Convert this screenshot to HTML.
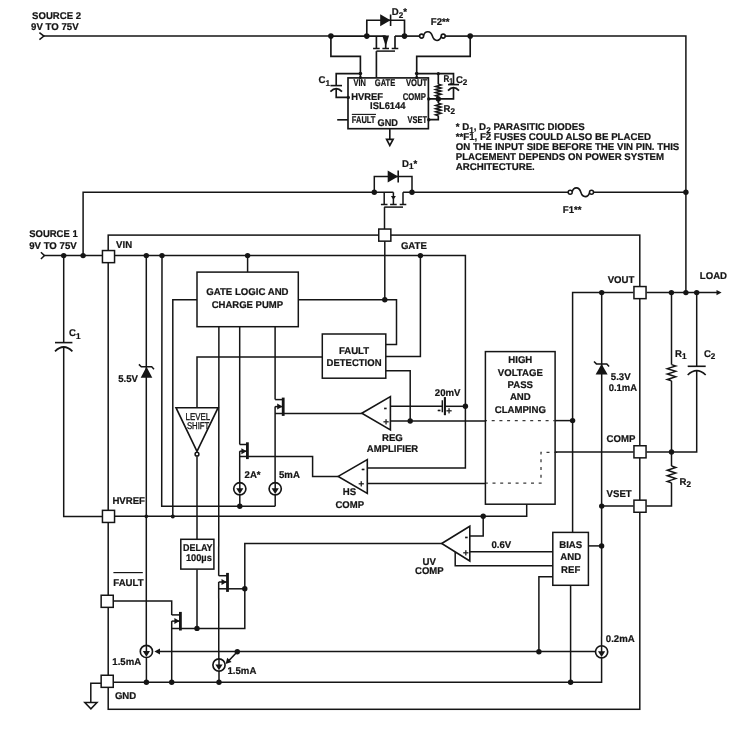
<!DOCTYPE html>
<html lang="en"><head><meta charset="utf-8"><title>ISL6144 block diagram</title>
<style>
html,body{margin:0;padding:0;background:#fff}
svg{display:block;will-change:transform}
svg *{vector-effect:none}
.s polyline,.s path,.s line{fill:none;stroke:#151515;stroke-width:1.5;stroke-linecap:butt;stroke-linejoin:miter}
.s .t polyline,.s .t path,.s .t .w{stroke-width:1.65}
.s .f{fill:#151515;stroke:none}
.s .w{fill:#fff;stroke:#151515;stroke-width:1.5}
.s .w2{fill:#fff;stroke:#151515;stroke-width:1.6;stroke-linejoin:miter}
.s .n{fill:none;stroke:#151515;stroke-width:1.5}
.s text{font-family:"Liberation Sans",sans-serif;font-weight:bold;font-size:9.8px;fill:#151515;stroke:#151515;stroke-width:0.22px;text-rendering:geometricPrecision}
.s text.r{font-weight:normal;stroke:#151515;stroke-width:0.3px}
</style></head><body>
<svg class="s" width="746" height="740" viewBox="0 0 746 740">
<rect x="0" y="0" width="746" height="740" fill="#fff"/>
<g class="t">
<polyline points="39.4,32.6 43.9,36.1 39.4,39.6" style="stroke-width:1.5"/>
<polyline points="43.9,36.1 330.9,36.1" style="stroke-width:1.5"/>
<polyline points="330.9,36.1 385.7,36.1"/>
<polyline points="395,36.1 419.8,36.1"/>
<path d="M423.6,35.6 C425.1,30.3 430.6,30.3 432.4,36.1 S439.7,41.7 441.2,36.6" style="stroke-width:1.6"/>
<circle cx="421.6" cy="36.1" r="2.0" class="w"/>
<circle cx="443.2" cy="36.1" r="2.0" class="w"/>
<polyline points="445,36.1 470.2,36.1"/>
<polyline points="470.2,36.1 685.9,36.1 685.9,292.6" style="stroke-width:1.5"/>
<circle cx="330.9" cy="36.1" r="2.8" class="f"/>
<circle cx="366.8" cy="36.1" r="2.8" class="f"/>
<circle cx="404.5" cy="36.1" r="2.8" class="f"/>
<circle cx="470.2" cy="36.1" r="2.8" class="f"/>
<polyline points="330.9,36.1 330.9,56.4 360.4,56.4 360.4,77.9"/>
<polyline points="470.2,36.1 470.2,56.4 416.7,56.4 416.7,77.9"/>
<polyline points="366.8,36.1 366.8,20.2 404.5,20.2 404.5,36.1"/>
<polygon points="380.2,14.3 380.2,26.2 390.5,20.2" class="f"/>
<polyline points="390.6,14.5 390.6,26" style="stroke-width:1.6"/>
<polyline points="376.4,36.1 376.4,48.5"/>
<polyline points="385.7,36.1 385.7,48.5"/>
<polyline points="395,36.1 395,48.5"/>
<polyline points="373.1,48.5 379.7,48.5" style="stroke-width:1.5"/>
<polyline points="382.4,48.5 389,48.5" style="stroke-width:1.5"/>
<polyline points="391.7,48.5 398.3,48.5" style="stroke-width:1.5"/>
<polyline points="376.4,51.1 395,51.1" style="stroke-width:1.5"/>
<polygon points="382.3,35.6 389.1,35.6 385.7,46.3" class="f"/>
<polyline points="376.4,51.1 376.4,77.9"/>
<rect x="348" y="77.9" width="80.4" height="50.8" class="w"/>
<polyline points="360.4,73.6 336.2,73.6 336.2,85.6"/>
<polyline points="330.4,85.6 342,85.6" style="stroke-width:1.6"/>
<path d="M330.4,91.6 Q336.2,85.6 342,91.6" style="stroke-width:1.7"/>
<polyline points="336.2,88.6 336.2,97.4 348,97.4"/>
<circle cx="360.4" cy="73.6" r="1.8" class="f"/>
<circle cx="360.4" cy="77.6" r="1.5" class="f"/>
<circle cx="348.3" cy="97.4" r="1.7" class="f"/>
<polyline points="337.2,119.8 348,119.8"/>
<polyline points="389.8,128.7 389.8,139.2"/>
<polygon points="386.6,139.4 393.1,139.4 389.8,145.4" class="w"/>
<polyline points="416.7,73.6 453.5,73.6 453.5,84.6"/>
<polyline points="448,84.6 459,84.6" style="stroke-width:1.6"/>
<path d="M448,90.6 Q453.5,84.6 459,90.6" style="stroke-width:1.7"/>
<polyline points="453.5,87.6 453.5,98.9 428.4,98.9"/>
<circle cx="416.7" cy="73.6" r="1.8" class="f"/>
<circle cx="416.7" cy="77.6" r="1.5" class="f"/>
<circle cx="438.3" cy="73.7" r="1.6" class="f"/>
<polyline points="438.3,73.6 438.3,84.3"/>
<polyline points="438.3,84.3 440.8,85.0562 435.8,86.5687 440.8,88.0812 435.8,89.5938 440.8,91.1063 435.8,92.6188 440.8,94.1313 435.8,95.6438 438.3,96.4" stroke-linejoin="miter"/>
<polyline points="438.3,96.4 438.3,103.2"/>
<polyline points="438.3,103.2 440.8,103.975 435.8,105.525 440.8,107.075 435.8,108.625 440.8,110.175 435.8,111.725 440.8,113.275 435.8,114.825 438.3,115.6" stroke-linejoin="miter"/>
<polyline points="438.3,115.6 438.3,119.6 428.4,119.6"/>
<circle cx="438.3" cy="98.9" r="2.6" class="f"/>
<circle cx="428.8" cy="98.9" r="1.7" class="f"/>
<circle cx="428.8" cy="119.8" r="1.7" class="f"/>
</g>
<text transform="translate(353.5 86) scale(0.98 1)" font-size="9.19" textLength="12.65" lengthAdjust="spacingAndGlyphs">VIN</text>
<text transform="translate(374.8 86) scale(0.98 1)" font-size="9.19" textLength="20.82" lengthAdjust="spacingAndGlyphs">GATE</text>
<text transform="translate(405.9 86) scale(0.98 1)" font-size="9.19" textLength="21.73" lengthAdjust="spacingAndGlyphs">VOUT</text>
<text transform="translate(351.2 99.9) scale(0.98 1)" textLength="32.45" lengthAdjust="spacingAndGlyphs">HVREF</text>
<text transform="translate(402.7 100.4) scale(0.98 1)" textLength="23.67" lengthAdjust="spacingAndGlyphs">COMP</text>
<text transform="translate(370.1 109.1) scale(0.98 1)" textLength="36.12" lengthAdjust="spacingAndGlyphs">ISL6144</text>
<text transform="translate(351.8 122.9) scale(0.98 1)" textLength="24.08" lengthAdjust="spacingAndGlyphs">FAULT</text>
<polyline points="351.8,114.4 376,114.4" style="stroke-width:1.1"/>
<text transform="translate(377.6 125.8) scale(0.98 1)" textLength="20.82" lengthAdjust="spacingAndGlyphs">GND</text>
<text transform="translate(407.6 122.9) scale(0.98 1)" textLength="19.80" lengthAdjust="spacingAndGlyphs">VSET</text>
<text transform="translate(318.6 83.1) scale(0.98 1)">C<tspan dy="2.6" font-size="8.3">1</tspan></text>
<text transform="translate(443.4 81.8) scale(0.98 1)" textLength="9.80" lengthAdjust="spacingAndGlyphs">R<tspan dy="2.6" font-size="8.3">1</tspan></text>
<text transform="translate(455.9 82.6) scale(0.98 1)">C<tspan dy="2.6" font-size="8.3">2</tspan></text>
<text transform="translate(443.5 111.8) scale(0.98 1)">R<tspan dy="2.6" font-size="8.3">2</tspan></text>
<text transform="translate(32.1 18.5) scale(0.98 1)" textLength="49.90" lengthAdjust="spacingAndGlyphs">SOURCE 2</text>
<text transform="translate(31.1 29.8) scale(0.98 1)" textLength="48.47" lengthAdjust="spacingAndGlyphs">9V TO 75V</text>
<text transform="translate(391.8 15) scale(0.98 1)">D<tspan dy="2.6" font-size="8.3">2</tspan><tspan dy="-2.6">*</tspan></text>
<text transform="translate(430.8 25.4) scale(0.98 1)">F2**</text>
<text transform="translate(455.7 129.9) scale(0.98 1)" font-size="9.87" textLength="131.63" lengthAdjust="spacingAndGlyphs">* D<tspan dy="2.6" font-size="8.3">1</tspan><tspan dy="-2.6">, D</tspan><tspan dy="2.6" font-size="8.3">2</tspan><tspan dy="-2.6"> PARASITIC DIODES</tspan></text>
<text transform="translate(455.7 140) scale(0.98 1)" font-size="9.87" textLength="199.18" lengthAdjust="spacingAndGlyphs">**F1, F2 FUSES COULD ALSO BE PLACED</text>
<text transform="translate(455.7 150) scale(0.98 1)" font-size="9.87" textLength="228.16" lengthAdjust="spacingAndGlyphs">ON THE INPUT SIDE BEFORE THE VIN PIN. THIS</text>
<text transform="translate(455.7 160) scale(0.98 1)" font-size="9.87" textLength="212.65" lengthAdjust="spacingAndGlyphs">PLACEMENT DEPENDS ON POWER SYSTEM</text>
<text transform="translate(455.7 170) scale(0.98 1)" font-size="9.87" textLength="80.71" lengthAdjust="spacingAndGlyphs">ARCHITECTURE.</text>
<polyline points="83.1,255.6 83.1,192.3 393.4,192.3"/>
<polyline points="403,192.3 568.3,192.3"/>
<path d="M572.2,191.8 C573.7,186.5 579.05,186.5 580.85,192.3 S588,197.9 589.5,192.8" style="stroke-width:1.6"/>
<circle cx="570.2" cy="192.3" r="2.0" class="w"/>
<circle cx="591.5" cy="192.3" r="2.0" class="w"/>
<polyline points="593.3,192.3 685.9,192.3"/>
<circle cx="685.9" cy="192.3" r="2.7" class="f"/>
<circle cx="374.3" cy="192.3" r="2.7" class="f"/>
<circle cx="412" cy="192.3" r="2.7" class="f"/>
<polyline points="374.3,192.3 374.3,176.5 412,176.5 412,192.3"/>
<polygon points="387.7,170.4 387.7,182.6 398.1,176.5" class="f"/>
<polyline points="398.2,170.5 398.2,182.4" style="stroke-width:1.6"/>
<polyline points="384.2,192.3 384.2,204.5"/>
<polyline points="393.4,192.3 393.4,204.5"/>
<polyline points="403,192.3 403,204.5"/>
<polyline points="380.9,204.5 387.5,204.5" style="stroke-width:1.5"/>
<polyline points="390.1,204.5 396.7,204.5" style="stroke-width:1.5"/>
<polyline points="399.7,204.5 406.3,204.5" style="stroke-width:1.5"/>
<polyline points="384.2,207.1 403,207.1" style="stroke-width:1.5"/>
<polygon points="390.9,196 395.9,196 393.4,199.8" class="f"/>
<polyline points="384.5,207.1 384.5,229"/>
<text transform="translate(402.1 166.8) scale(0.98 1)">D<tspan dy="2.6" font-size="8.3">1</tspan><tspan dy="-2.6">*</tspan></text>
<text transform="translate(562.8 212.5) scale(0.98 1)">F1**</text>
<rect x="108.2" y="235.1" width="531.6" height="474.2" class="n"/>
<polyline points="40.9,252.2 44.5,255.6 40.9,259" style="stroke-width:1.5"/>
<polyline points="44.5,255.6 102,255.6"/>
<circle cx="63.7" cy="255.6" r="2.7" class="f"/>
<circle cx="83.1" cy="255.6" r="2.7" class="f"/>
<text transform="translate(29.2 236.6) scale(0.98 1)" textLength="49.49" lengthAdjust="spacingAndGlyphs">SOURCE 1</text>
<text transform="translate(29.2 249.4) scale(0.98 1)" textLength="48.47" lengthAdjust="spacingAndGlyphs">9V TO 75V</text>
<polyline points="63.7,255.6 63.7,342.6"/>
<polyline points="55,342.6 72.4,342.6" style="stroke-width:1.6"/>
<path d="M55,351.3 Q63.7,342.7 72.4,351.3" style="stroke-width:1.7"/>
<polyline points="63.7,347 63.7,516.4 102,516.4"/>
<text transform="translate(69 335.9) scale(0.98 1)">C<tspan dy="2.6" font-size="8.3">1</tspan></text>
<polyline points="115,255.6 465.4,255.6 465.4,468 367.3,468"/>
<circle cx="146.3" cy="255.6" r="2.7" class="f"/>
<circle cx="162" cy="255.6" r="2.7" class="f"/>
<circle cx="247.6" cy="255.6" r="2.7" class="f"/>
<circle cx="420.4" cy="255.6" r="2.7" class="f"/>
<circle cx="465.4" cy="406.3" r="2.7" class="f"/>
<text transform="translate(116.1 247.8) scale(0.98 1)">VIN</text>
<polyline points="146.3,255.6 146.3,645.3"/>
<polygon points="146.5,366.8 140.7,377.8 152.3,377.8" class="f"/>
<polyline points="138.9,364.4 141.3,366.8 151.7,366.8 154,369.3" style="stroke-width:1.5"/>
<text transform="translate(118.2 381.6) scale(0.98 1)">5.5V</text>
<polyline points="162,255.6 161.7,506.2 275.2,506.2"/>
<circle cx="239.8" cy="506.2" r="2.7" class="f"/>
<polyline points="247.6,255.6 247.6,272"/>
<rect x="197" y="272.1" width="101.3" height="54.6" class="w"/>
<text transform="translate(247.4 295.2) scale(0.98 1)" text-anchor="middle" textLength="83.98" lengthAdjust="spacingAndGlyphs">GATE LOGIC AND</text>
<text transform="translate(247.4 308.1) scale(0.98 1)" text-anchor="middle" textLength="72.96" lengthAdjust="spacingAndGlyphs">CHARGE PUMP</text>
<polyline points="197,299.7 172.8,299.7 172.8,516.4"/>
<polyline points="298.3,299.8 396.5,299.8 396.5,344.6 385.8,344.6"/>
<polyline points="384.8,241 384.8,299.8"/>
<circle cx="384.8" cy="299.8" r="2.7" class="f"/>
<text transform="translate(400.9 248.5) scale(0.98 1)">GATE</text>
<polyline points="420.4,255.6 420.4,356.4 385.8,356.4"/>
<polyline points="218.9,326.7 218.7,575.7"/>
<polyline points="239.7,326.7 239.7,444.5"/>
<polyline points="275.1,326.7 275.1,399.6"/>
<polyline points="322.3,357.1 197,357.1 197,407.7"/>
<rect x="322.3" y="334" width="63.5" height="44.2" class="w"/>
<text transform="translate(354 353.6) scale(0.98 1)" text-anchor="middle">FAULT</text>
<text transform="translate(354 365.9) scale(0.98 1)" text-anchor="middle" textLength="56.12" lengthAdjust="spacingAndGlyphs">DETECTION</text>
<polyline points="385.8,370.7 410.2,370.7 410.2,421"/>
<circle cx="410.2" cy="421" r="2.7" class="f"/>
<polygon points="176,407.7 218.1,407.7 197,451.3" class="w2"/>
<circle cx="197" cy="454.2" r="1.9" class="w"/>
<text transform="translate(185.6 419.6) scale(0.98 1)" font-size="9.19" class="r" textLength="25.10" lengthAdjust="spacingAndGlyphs">LEVEL</text>
<text transform="translate(186.9 428.6) scale(0.98 1)" font-size="9.19" class="r" textLength="22.86" lengthAdjust="spacingAndGlyphs">SHIFT</text>
<polyline points="197,456.6 197,539.2"/>
<rect x="180.8" y="539.3" width="33.1" height="29.8" class="w"/>
<text transform="translate(182.9 551.3) scale(0.98 1)" textLength="30.31" lengthAdjust="spacingAndGlyphs">DELAY</text>
<text transform="translate(185.9 561.1) scale(0.98 1)" textLength="26.43" lengthAdjust="spacingAndGlyphs">100µs</text>
<polyline points="197,569.4 197,628.4"/>
<circle cx="197" cy="628.4" r="2.7" class="f"/>
<polyline points="275.1,399.6 283.2,399.6"/>
<polyline points="283.2,397.6 283.2,415.9" style="stroke-width:2.8"/>
<polyline points="275.1,406.6 282.4,406.6"/>
<polygon points="277.2,403.6 277.2,409.6 282.4,406.6" class="f"/>
<polyline points="275.1,406.6 275.1,482.7"/>
<polyline points="275.1,413.4 361.8,413.4"/>
<circle cx="275.2" cy="488.8" r="6.1" class="w" style="stroke-width:1.65"/>
<polyline points="275.2,482.7 275.2,489.8"/>
<polygon points="271.6,488.3 278.8,488.3 275.2,494.1" class="f"/>
<polyline points="275.2,494.9 275.2,506.2"/>
<polyline points="239.7,444.5 247.4,444.5"/>
<polyline points="247.4,442.3 247.4,459.1" style="stroke-width:2.8"/>
<polyline points="239.7,451.2 246.6,451.2"/>
<polygon points="241.4,448.2 241.4,454.2 246.6,451.2" class="f"/>
<polyline points="239.7,451.2 239.7,482.7"/>
<polyline points="239.7,456.6 312.6,456.6 312.6,476.4 338.2,476.4"/>
<circle cx="239.8" cy="488.8" r="6.1" class="w" style="stroke-width:1.65"/>
<polyline points="239.8,482.7 239.8,489.8"/>
<polygon points="236.2,488.3 243.4,488.3 239.8,494.1" class="f"/>
<polyline points="239.8,494.9 239.8,506.2"/>
<text transform="translate(244.6 477.6) scale(0.98 1)">2A*</text>
<text transform="translate(279 477.6) scale(0.98 1)">5mA</text>
<polygon points="361.8,413.3 390.4,396.6 390.4,429.9" class="w2"/>
<text transform="translate(385.4 410.9) scale(0.98 1)" text-anchor="middle" font-size="9.19">-</text>
<text transform="translate(386.1 424.9) scale(0.98 1)" text-anchor="middle" font-size="9.19">+</text>
<polyline points="390.4,406.3 442.3,406.3"/>
<polyline points="445,406.3 465.4,406.3"/>
<polyline points="442.3,400.2 442.3,412.3" style="stroke-width:1.4"/>
<polyline points="444.9,397.1 444.9,415.2" style="stroke-width:2.1"/>
<text transform="translate(439.1 413) scale(0.98 1)" text-anchor="middle" font-size="8.17">-</text>
<text transform="translate(449.1 413.6) scale(0.98 1)" text-anchor="middle" font-size="6.94">+</text>
<polyline points="390.4,421 485.4,421"/>
<text transform="translate(434.8 396.1) scale(0.98 1)">20mV</text>
<text transform="translate(392.4 440.6) scale(0.98 1)" text-anchor="middle">REG</text>
<text transform="translate(392.5 451.5) scale(0.98 1)" text-anchor="middle" textLength="52.45" lengthAdjust="spacingAndGlyphs">AMPLIFIER</text>
<polygon points="338.2,476.4 367.3,459.6 367.3,493.4" class="w2"/>
<text transform="translate(363.1 472.1) scale(0.98 1)" text-anchor="middle" font-size="9.19">-</text>
<text transform="translate(361.4 486.6) scale(0.98 1)" text-anchor="middle" font-size="9.19">+</text>
<polyline points="367.3,483.4 485.4,483.4"/>
<text transform="translate(349.4 494.8) scale(0.98 1)" text-anchor="middle">HS</text>
<text transform="translate(349.7 507.6) scale(0.98 1)" text-anchor="middle" textLength="29.18" lengthAdjust="spacingAndGlyphs">COMP</text>
<rect x="485.4" y="351.6" width="69.7" height="152.6" class="w"/>
<text transform="translate(520.3 363.2) scale(0.98 1)" text-anchor="middle">HIGH</text>
<text transform="translate(520.3 375.6) scale(0.98 1)" text-anchor="middle">VOLTAGE</text>
<text transform="translate(520.3 388) scale(0.98 1)" text-anchor="middle">PASS</text>
<text transform="translate(520.3 400.4) scale(0.98 1)" text-anchor="middle">AND</text>
<text transform="translate(520.3 412.8) scale(0.98 1)" text-anchor="middle">CLAMPING</text>
<polyline points="556.3,420.7 486,420.7" style="stroke-dasharray:3,4.7;stroke-width:1.3;stroke:#3a3a3a"/>
<polyline points="557.2,452.4 541,452.4 541,483.1 486,483.1" style="stroke-dasharray:3,4.7;stroke-width:1.3;stroke:#3a3a3a"/>
<polyline points="555.1,420.6 572.6,420.6"/>
<circle cx="572.6" cy="420.6" r="2.7" class="f"/>
<polyline points="526.7,504.2 526.7,516.3 115,516.3"/>
<circle cx="146.3" cy="516.4" r="1.8" class="f"/>
<circle cx="172.8" cy="516.4" r="2.0" class="f"/>
<circle cx="483.2" cy="516.3" r="2.7" class="f"/>
<text transform="translate(112.4 504.2) scale(0.98 1)">HVREF</text>
<polyline points="572.6,532.4 572.6,292.6 633.5,292.6"/>
<polyline points="646.5,292.6 717,292.6"/>
<polygon points="716.5,289.9 716.5,295.3 721.6,292.6" class="f"/>
<circle cx="601.7" cy="292.6" r="2.7" class="f"/>
<circle cx="671.4" cy="292.6" r="2.7" class="f"/>
<circle cx="685.9" cy="292.6" r="2.7" class="f"/>
<circle cx="696.7" cy="292.6" r="2.7" class="f"/>
<text transform="translate(607.7 283) scale(0.98 1)">VOUT</text>
<text transform="translate(699.8 279.2) scale(0.98 1)">LOAD</text>
<polyline points="601.7,292.6 601.6,645.6"/>
<polygon points="601.6,363.9 595.6,374.6 607.6,374.6" class="f"/>
<polyline points="594,361.5 596.4,363.9 606.8,363.9 609.1,366.4" style="stroke-width:1.5"/>
<text transform="translate(610.8 379.5) scale(0.98 1)">5.3V</text>
<text transform="translate(608.7 390.8) scale(0.98 1)" textLength="28.88" lengthAdjust="spacingAndGlyphs">0.1mA</text>
<polyline points="671.5,292.6 671.5,364.6"/>
<polyline points="671.5,364.6 675.7,365.95 667.3,368.65 675.7,371.35 667.3,374.05 675.7,376.75 667.3,379.45 671.5,380.8" stroke-linejoin="miter"/>
<polyline points="671.5,380.8 671.5,466"/>
<polyline points="671.5,466 675.7,467.4 667.3,470.2 675.7,473 667.3,475.8 675.7,478.6 667.3,481.4 671.5,482.8" stroke-linejoin="miter"/>
<polyline points="671.5,482.8 671.5,506.1 646.5,506.1"/>
<polyline points="696.7,292.6 696.7,366.3"/>
<polyline points="687.7,366.3 705.7,366.3" style="stroke-width:1.6"/>
<path d="M687.7,375 Q696.7,366.4 705.7,375" style="stroke-width:1.7"/>
<polyline points="696.7,370.7 696.7,452 646.5,452"/>
<circle cx="671.5" cy="452" r="2.7" class="f"/>
<text transform="translate(675.1 356.8) scale(0.98 1)">R<tspan dy="2.6" font-size="8.3">1</tspan></text>
<text transform="translate(703.9 356.8) scale(0.98 1)">C<tspan dy="2.6" font-size="8.3">2</tspan></text>
<text transform="translate(679.5 484.5) scale(0.98 1)">R<tspan dy="2.6" font-size="8.3">2</tspan></text>
<polyline points="555.1,452.1 633.5,452.1"/>
<text transform="translate(606.6 441.6) scale(0.98 1)">COMP</text>
<polyline points="601.7,506.1 633.5,506.1"/>
<circle cx="601.7" cy="506.1" r="2.7" class="f"/>
<text transform="translate(606.6 497.1) scale(0.98 1)">VSET</text>
<rect x="552.8" y="532.4" width="35.6" height="52.9" class="w"/>
<text transform="translate(570.7 548) scale(0.98 1)" text-anchor="middle">BIAS</text>
<text transform="translate(570.7 560.3) scale(0.98 1)" text-anchor="middle">AND</text>
<text transform="translate(570.7 572.6) scale(0.98 1)" text-anchor="middle">REF</text>
<polyline points="588.4,545.9 601.6,545.9"/>
<circle cx="601.6" cy="545.9" r="2.7" class="f"/>
<polyline points="469.8,551.8 552.8,551.8"/>
<polyline points="455.2,551.5 455.2,565.8 552.8,565.8"/>
<polyline points="552.8,576.8 538.9,576.8 538.9,651.7"/>
<circle cx="538.9" cy="651.7" r="2.7" class="f"/>
<polyline points="570.6,585.3 570.6,682.3"/>
<circle cx="570.6" cy="682.3" r="2.7" class="f"/>
<text transform="translate(491.4 548) scale(0.98 1)">0.6V</text>
<polygon points="441.7,543.5 469.8,526.3 469.8,561" class="w2"/>
<text transform="translate(466.4 539.6) scale(0.98 1)" text-anchor="middle" font-size="9.19">-</text>
<text transform="translate(465.9 555.9) scale(0.98 1)" text-anchor="middle" font-size="9.19">+</text>
<polyline points="469.8,536.1 483.2,536.1 483.2,516.3"/>
<polyline points="441.7,543.4 244.8,543.4 244.8,628.4 171.7,628.4"/>
<circle cx="244.8" cy="588.8" r="2.7" class="f"/>
<text transform="translate(429.3 564.5) scale(0.98 1)" text-anchor="middle">UV</text>
<text transform="translate(429.3 574.3) scale(0.98 1)" text-anchor="middle" textLength="29.18" lengthAdjust="spacingAndGlyphs">COMP</text>
<circle cx="601.6" cy="651.8" r="6.1" class="w" style="stroke-width:1.65"/>
<polyline points="601.6,645.7 601.6,652.8"/>
<polygon points="598,651.3 605.2,651.3 601.6,657.1" class="f"/>
<polyline points="601.6,657.9 601.6,682.3 113.5,682.3"/>
<text transform="translate(605.8 641.6) scale(0.98 1)">0.2mA</text>
<polyline points="113.5,601.1 171.7,601.1 171.7,614.9"/>
<polyline points="171.7,614.9 180.4,614.9"/>
<polyline points="180.4,611.9 180.4,630.5" style="stroke-width:2.8"/>
<polyline points="171.7,621.1 179.6,621.1"/>
<polygon points="174.4,618.1 174.4,624.1 179.6,621.1" class="f"/>
<polyline points="171.7,621.1 171.7,682.3"/>
<text transform="translate(113.3 586) scale(0.98 1)">FAULT</text>
<polyline points="113.4,572.6 142.8,572.6" style="stroke-width:1.2"/>
<polyline points="218.7,575.7 227.5,575.7"/>
<polyline points="227.5,572.9 227.5,591.9" style="stroke-width:2.8"/>
<polyline points="218.7,582 226.7,582"/>
<polygon points="221.5,579 221.5,585 226.7,582" class="f"/>
<polyline points="218.7,582 218.8,659"/>
<polyline points="218.7,588.8 244.8,588.8"/>
<circle cx="219" cy="665" r="6.1" class="w" style="stroke-width:1.65"/>
<polyline points="219,658.9 219,666"/>
<polygon points="215.4,664.5 222.6,664.5 219,670.3" class="f"/>
<polyline points="219,671.1 219,682.3"/>
<circle cx="146.4" cy="651.4" r="6.1" class="w" style="stroke-width:1.65"/>
<polyline points="146.4,645.3 146.4,652.4"/>
<polygon points="142.8,650.9 150,650.9 146.4,656.7" class="f"/>
<polyline points="146.4,657.5 146.4,682.3"/>
<polyline points="159,651.6 595.5,651.6"/>
<polygon points="154.4,651.6 160,648.6 160,654.6" class="f"/>
<circle cx="237.3" cy="651.7" r="2.7" class="f"/>
<polyline points="237.3,651.7 228.5,661" style="stroke-width:1.6"/>
<polygon points="225.6,664 227.2,657.8 231.6,662" class="f"/>
<circle cx="146.4" cy="682.3" r="2.7" class="f"/>
<circle cx="171.7" cy="682.3" r="2.7" class="f"/>
<circle cx="219" cy="682.3" r="2.7" class="f"/>
<text transform="translate(112.3 665.4) scale(0.98 1)">1.5mA</text>
<text transform="translate(227.5 673.5) scale(0.98 1)">1.5mA</text>
<text transform="translate(114.9 699.1) scale(0.98 1)">GND</text>
<polyline points="101,683.2 90.8,683.2 90.8,702.3"/>
<polygon points="84.8,702.5 97,702.5 90.9,708.8" class="w"/>
<rect x="102.45" y="250.55" width="12.1" height="12.1" class="w"/>
<rect x="102.45" y="510.35" width="12.1" height="12.1" class="w"/>
<rect x="101.15" y="595.25" width="12.1" height="12.1" class="w"/>
<rect x="101.15" y="675.25" width="12.1" height="12.1" class="w"/>
<rect x="378.75" y="229.05" width="12.1" height="12.1" class="w"/>
<rect x="633.95" y="286.55" width="12.1" height="12.1" class="w"/>
<rect x="633.95" y="445.75" width="12.1" height="12.1" class="w"/>
<rect x="633.95" y="500.15" width="12.1" height="12.1" class="w"/>
</svg>
</body></html>
